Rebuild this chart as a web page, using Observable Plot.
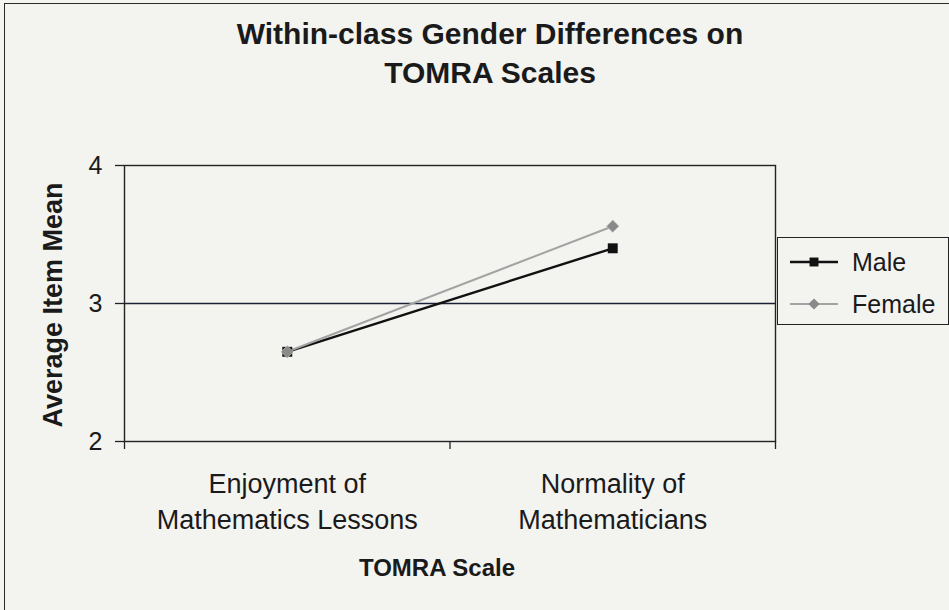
<!DOCTYPE html>
<html>
<head>
<meta charset="utf-8">
<script src="https://cdn.jsdelivr.net/npm/d3@7"></script>
<script src="https://cdn.jsdelivr.net/npm/@observablehq/plot@0.6"></script>
<style>
  html, body { margin: 0; padding: 0; background: #f3f3f0; }
  #wrap { position: relative; width: 949px; height: 610px; background: #f3f3f0; overflow: hidden;
          font-family: "Liberation Sans", Arial, sans-serif; color: #1a1a1a; }
  #wrap svg.plot { position: absolute; left: 0; top: 0; background: transparent; }
  .abs { position: absolute; }
  #pageBorder { left: 4px; top: 3px; right: -2px; bottom: -2px; border-top: 1.5px solid #2a2a2a; border-left: 1.5px solid #2a2a2a; }
  #title { left: 90px; width: 800px; top: 14px; text-align: center; font-weight: bold; font-size: 30px; line-height: 39px; }
  #ylabel { left: 53px; top: 305px; transform: translate(-50%, -50%) rotate(-90deg); white-space: nowrap; font-weight: bold; font-size: 27px; }
  #xlabel { left: 437px; top: 568px; transform: translate(-50%, -50%); white-space: nowrap; font-weight: bold; font-size: 24px; }
  #legend { left: 777px; top: 237px; width: 172px; height: 88px; box-sizing: border-box; border: 1.5px solid #222; }
  .lrow { position: absolute; left: 0; height: 30px; display: flex; align-items: center; font-size: 25px; }
  .lrow svg { margin-left: 11px; margin-right: 13px; }
</style>
</head>
<body>
<div id="wrap">
  <div id="pageBorder" class="abs"></div>
</div>
<script>
// ---- data ----
const categories = ["Enjoyment of\nMathematics Lessons", "Normality of\nMathematicians"];
const seriesNames = ["Male", "Female"];
const maleValues = [2.65, 3.40];
const femaleValues = [2.65, 3.56];
const yTicks = [2, 3, 4];
const gridValues = [3];
const titleText = "Within-class Gender Differences on\nTOMRA Scales";
const yTitle = "Average Item Mean";
const xTitle = "TOMRA Scale";

const maleRows = categories.map((c, i) => ({series: seriesNames[0], i, value: maleValues[i]}));
const femaleRows = categories.map((c, i) => ({series: seriesNames[1], i, value: femaleValues[i]}));
const boundaries = d3.range(categories.length + 1).map(k => k - 0.5);

const ink = "#1a1a1a";
const maleColor = "#111111";
const femaleColor = "#a3a3a3";
const femaleMarker = "#8a8a8a";

const chart = Plot.plot({
  width: 949,
  height: 610,
  marginLeft: 124,
  marginRight: 174,
  marginTop: 165,
  marginBottom: 169,
  style: {background: "transparent", color: ink, fontFamily: "'Liberation Sans', Arial, sans-serif"},
  x: {type: "linear", domain: [boundaries[0], boundaries[boundaries.length - 1]]},
  y: {domain: [yTicks[0], yTicks[yTicks.length - 1]]},
  marks: [
    Plot.ruleY(gridValues, {stroke: "#1c2235", strokeWidth: 1.3}),
    Plot.frame({stroke: "#222", strokeWidth: 1.4}),
    Plot.axisY({ticks: yTicks, tickFormat: d3.format("d"), tickSize: 9, tickPadding: 13, fontSize: 25, label: null, stroke: "#222", strokeWidth: 1.3}),
    Plot.axisX({ticks: boundaries, tickSize: 8, tickFormat: () => "", label: null, stroke: "#222", strokeWidth: 1.3}),
    Plot.axisX({ticks: d3.range(categories.length), tickSize: 0, tickPadding: 26, fontSize: 27, lineHeight: 1.33,
                tickFormat: i => categories[i], label: null}),
    Plot.line(maleRows, {x: "i", y: "value", stroke: maleColor, strokeWidth: 2.4}),
    Plot.line(femaleRows, {x: "i", y: "value", stroke: femaleColor, strokeWidth: 2}),
    Plot.dot(maleRows, {x: "i", y: "value", symbol: "square", r: 5.6, fill: maleColor, stroke: "none"}),
    Plot.dot(femaleRows, {x: "i", y: "value", symbol: "diamond2", r: 5.5, fill: femaleMarker, stroke: "#b8b8b8", strokeWidth: 0.8})
  ]
});
const wrap = document.getElementById("wrap");
wrap.appendChild(chart);

// titles
const t = document.createElement("div");
t.id = "title"; t.className = "abs";
t.innerHTML = titleText.split("\n").map(s => `<div>${s}</div>`).join("");
wrap.appendChild(t);
const yl = document.createElement("div");
yl.id = "ylabel"; yl.className = "abs"; yl.textContent = yTitle;
wrap.appendChild(yl);
const xl = document.createElement("div");
xl.id = "xlabel"; xl.className = "abs"; xl.textContent = xTitle;
wrap.appendChild(xl);

// legend
const lg = document.createElement("div");
lg.id = "legend"; lg.className = "abs";
const sampleStyles = [
  {stroke: maleColor, width: 2.3, symbol: d3.symbolSquare, size: 80, fill: maleColor},
  {stroke: femaleColor, width: 2, symbol: d3.symbolDiamond2, size: 80, fill: femaleMarker}
];
seriesNames.forEach((name, k) => {
  const row = document.createElement("div");
  row.className = "lrow";
  row.style.top = (k === 0 ? 9 : 51) + "px";
  const s = sampleStyles[k];
  const path = d3.symbol(s.symbol, s.size)();
  row.innerHTML = `<svg width="50" height="20" viewBox="0 0 50 20">
      <line x1="1" y1="10" x2="49" y2="10" stroke="${s.stroke}" stroke-width="${s.width}"/>
      <path d="${path}" transform="translate(25,10)" fill="${s.fill}"/>
    </svg><span>${name}</span>`;
  lg.appendChild(row);
});
wrap.appendChild(lg);
</script>
</body>
</html>
